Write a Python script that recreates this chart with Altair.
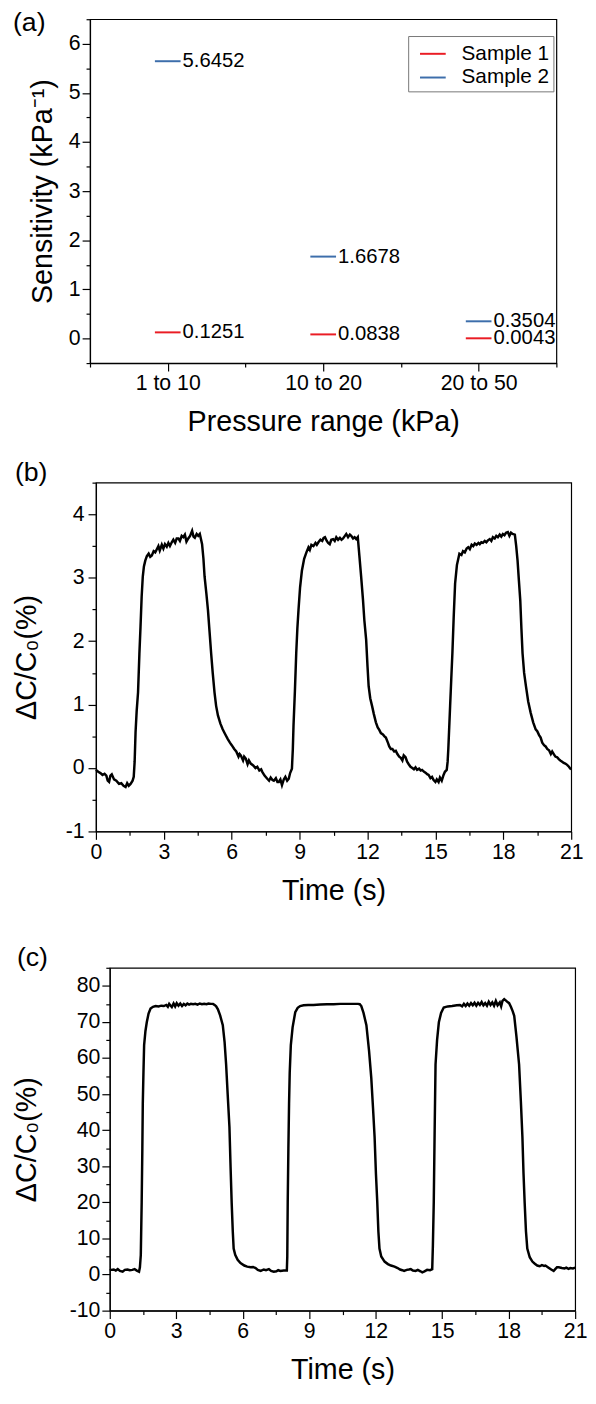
import json
import altair as alt
import pandas as pd

FONT = "Liberation Sans"

# ---------------- Panel (a) data ----------------
ranges = ["1 to 10", "10 to 20", "20 to 50"]
range_pos = [1, 2, 3]
sample1 = [0.1251, 0.0838, 0.0043]
sample2 = [5.6452, 1.6678, 0.3504]
series_names = ["Sample 1", "Sample 2"]
series_colors = ["#ea1c24", "#3d6eab"]

# ---------------- Panel (b) data ----------------
b_time = [0.00, 0.10, 0.20, 0.29, 0.38, 0.46, 0.52, 0.58, 0.64, 0.70, 0.80, 0.90, 1.02, 1.12, 1.22, 1.31,
          1.38, 1.45, 1.53, 1.62, 1.67, 1.71, 1.75, 1.80, 1.86, 1.92, 1.97, 2.02, 2.07, 2.12, 2.18, 2.25,
          2.33, 2.40, 2.47, 2.55, 2.62, 2.69, 2.76, 2.82, 2.91, 2.98, 3.05, 3.13, 3.20, 3.27, 3.35, 3.42,
          3.50, 3.57, 3.64, 3.71, 3.79, 3.86, 3.93, 4.00, 4.08, 4.16, 4.25, 4.31, 4.37, 4.45, 4.52, 4.59,
          4.69, 4.75, 4.80, 4.88, 4.95, 5.02, 5.09, 5.16, 5.24, 5.31, 5.39, 5.50, 5.60, 5.70, 5.82, 5.92,
          6.00, 6.11, 6.20, 6.30, 6.35, 6.40, 6.50, 6.55, 6.62, 6.70, 6.76, 6.84, 6.95, 7.05, 7.13, 7.22,
          7.30, 7.35, 7.45, 7.57, 7.65, 7.72, 7.80, 7.86, 7.95, 8.02, 8.08, 8.15, 8.22, 8.30, 8.37, 8.45,
          8.52, 8.58, 8.66, 8.70, 8.73, 8.79, 8.85, 8.90, 8.95, 9.02, 9.10, 9.20, 9.30, 9.39, 9.45, 9.52,
          9.61, 9.70, 9.76, 9.83, 9.92, 10.00, 10.06, 10.12, 10.20, 10.26, 10.33, 10.40, 10.48, 10.55,
          10.62, 10.70, 10.78, 10.85, 10.92, 11.00, 11.06, 11.14, 11.22, 11.28, 11.36, 11.43, 11.50,
          11.57, 11.64, 11.72, 11.80, 11.86, 11.94, 12.00, 12.05, 12.12, 12.20, 12.28, 12.37, 12.45,
          12.52, 12.59, 12.68, 12.75, 12.81, 12.90, 12.96, 13.03, 13.10, 13.18, 13.25, 13.32, 13.40,
          13.47, 13.54, 13.60, 13.68, 13.75, 13.82, 13.90, 13.98, 14.05, 14.12, 14.19, 14.28, 14.35,
          14.41, 14.50, 14.58, 14.65, 14.70, 14.78, 14.85, 14.92, 15.00, 15.06, 15.14, 15.20, 15.28,
          15.36, 15.42, 15.50, 15.54, 15.57, 15.65, 15.70, 15.75, 15.81, 15.87, 15.95, 16.06, 16.15,
          16.22, 16.30, 16.38, 16.45, 16.52, 16.60, 16.67, 16.74, 16.82, 16.90, 16.96, 17.03, 17.10,
          17.18, 17.25, 17.32, 17.40, 17.47, 17.54, 17.62, 17.69, 17.76, 17.84, 17.91, 17.98, 18.05,
          18.12, 18.20, 18.27, 18.34, 18.41, 18.51, 18.57, 18.63, 18.69, 18.75, 18.80, 18.85, 18.92,
          19.00, 19.10, 19.21, 19.32, 19.43, 19.50, 19.58, 19.65, 19.72, 19.80, 19.87, 19.94, 20.02,
          20.10, 20.16, 20.23, 20.30, 20.38, 20.45, 20.52, 20.60, 20.67, 20.74, 20.82, 20.90, 20.96, 21.00]
b_val = [-0.03, -0.06, -0.08, -0.11, -0.09, -0.12, -0.20, -0.22, -0.12, -0.10, -0.18, -0.20, -0.25, -0.24, -0.28, -0.30,
         -0.24, -0.28, -0.25, -0.20, -0.14, 0.10, 0.56, 0.90, 1.19, 1.80, 2.23, 2.70, 3.02, 3.18, 3.27, 3.34,
         3.38, 3.33, 3.35, 3.42, 3.40, 3.45, 3.50, 3.43, 3.52, 3.46, 3.53, 3.49, 3.55, 3.50, 3.56, 3.60,
         3.55, 3.62, 3.62, 3.58, 3.66, 3.64, 3.68, 3.57, 3.62, 3.66, 3.74, 3.65, 3.63, 3.69, 3.66, 3.69,
         3.53, 3.30, 3.02, 2.75, 2.49, 2.15, 1.81, 1.50, 1.19, 0.98, 0.83, 0.70, 0.61, 0.54, 0.46, 0.40,
         0.36, 0.30, 0.26, 0.18, 0.22, 0.20, 0.12, 0.18, 0.15, 0.06, 0.12, 0.07, 0.04, 0.00, 0.02, -0.04,
         -0.02, -0.06, -0.12, -0.17, -0.20, -0.15, -0.19, -0.20, -0.16, -0.22, -0.22, -0.18, -0.27, -0.18, -0.14, -0.20,
         -0.17, -0.08, -0.01, 0.30, 0.67, 1.20, 1.81, 2.20, 2.49, 2.85, 3.11, 3.30, 3.40, 3.48, 3.44, 3.52,
         3.50, 3.55, 3.52, 3.56, 3.60, 3.58, 3.63, 3.64, 3.58, 3.55, 3.53, 3.60, 3.61, 3.58,
         3.64, 3.60, 3.63, 3.60, 3.62, 3.66, 3.69, 3.64, 3.68, 3.66, 3.62, 3.64, 3.61,
         3.64, 3.35, 3.01, 2.65, 2.33, 2.02, 1.60, 1.29, 1.10, 0.98, 0.85, 0.72, 0.64,
         0.60, 0.55, 0.53, 0.50, 0.48, 0.40, 0.34, 0.30, 0.30, 0.26, 0.27, 0.22, 0.18,
         0.16, 0.12, 0.20, 0.17, 0.10, 0.06, 0.02, 0.00, -0.02, 0.01, -0.03, -0.01, -0.04,
         -0.03, -0.06, -0.08, -0.10, -0.11, -0.16, -0.14, -0.19, -0.22, -0.18, -0.22, -0.15, -0.20,
         -0.11, -0.06, -0.03, 0.10, 0.30, 0.98, 1.40, 1.81, 2.40, 2.91, 3.20, 3.38, 3.36,
         3.42, 3.40, 3.46, 3.48, 3.45, 3.52, 3.50, 3.54, 3.52, 3.55, 3.53, 3.56, 3.55,
         3.58, 3.56, 3.59, 3.61, 3.58, 3.64, 3.62, 3.66, 3.64, 3.68, 3.65, 3.69, 3.67,
         3.71, 3.72, 3.66, 3.71, 3.69, 3.68, 3.50, 3.27, 2.95, 2.64, 2.20, 1.81, 1.50,
         1.29, 1.05, 0.87, 0.72, 0.61, 0.58, 0.52, 0.48, 0.40, 0.36, 0.34, 0.30, 0.28,
         0.22, 0.26, 0.22, 0.18, 0.17, 0.14, 0.12, 0.10, 0.08, 0.07, 0.05, 0.02, -0.01, -0.02]

# ---------------- Panel (c) data ----------------
c_time = [0.00, 0.06, 0.18, 0.27, 0.36, 0.46, 0.58, 0.68, 0.80, 0.90, 1.02, 1.12, 1.22, 1.32, 1.36, 1.40,
          1.44, 1.47, 1.49, 1.52, 1.55, 1.61, 1.67, 1.75, 1.84, 1.95, 2.07, 2.20, 2.32, 2.44, 2.55, 2.62,
          2.68, 2.73, 2.80, 2.88, 2.95, 3.02, 3.10, 3.18, 3.26, 3.34, 3.42, 3.50, 3.58, 3.66, 3.76, 3.86,
          3.96, 4.06, 4.16, 4.26, 4.36, 4.46, 4.56, 4.66, 4.73, 4.80, 4.88, 4.98, 5.10, 5.18, 5.25, 5.32,
          5.40, 5.45, 5.50, 5.55, 5.59, 5.66, 5.77, 5.90, 6.07, 6.20, 6.36, 6.47, 6.58, 6.68, 6.81, 6.95,
          7.05, 7.18, 7.28, 7.40, 7.52, 7.60, 7.70, 7.85, 7.99, 8.01, 8.03, 8.06, 8.09, 8.12, 8.17, 8.25,
          8.37, 8.48, 8.59, 8.75, 8.95, 9.19, 9.50, 9.80, 10.10, 10.40, 10.70, 11.00, 11.20, 11.28, 11.35,
          11.45, 11.58, 11.70, 11.80, 11.88, 11.95, 12.01, 12.07, 12.12, 12.17, 12.25, 12.40, 12.55,
          12.69, 12.85, 12.99, 13.10, 13.20, 13.28, 13.40, 13.50, 13.58, 13.68, 13.80, 13.90, 14.02,
          14.10, 14.20, 14.32, 14.45, 14.55, 14.58, 14.62, 14.66, 14.70, 14.77, 14.85, 14.95, 15.07,
          15.25, 15.45, 15.66, 15.80, 15.90, 15.98, 16.06, 16.14, 16.22, 16.30, 16.38, 16.46, 16.54,
          16.62, 16.70, 16.78, 16.86, 16.94, 17.02, 17.10, 17.18, 17.26, 17.34, 17.42, 17.50, 17.60,
          17.66, 17.72, 17.80, 17.88, 17.95, 18.02, 18.10, 18.18, 18.25, 18.35, 18.47, 18.55, 18.62,
          18.67, 18.72, 18.78, 18.84, 18.95, 19.07, 19.18, 19.29, 19.40, 19.50, 19.60, 19.66, 19.80,
          19.92, 20.03, 20.10, 20.18, 20.26, 20.40, 20.52, 20.60, 20.70, 20.78, 20.90, 21.00]
c_val = [1.2, 1.3, 1.4, 1.1, 1.5, 1.0, 0.8, 1.3, 1.4, 1.2, 1.3, 1.5, 1.1, 0.8, 2.0, 5.4,
         20.1, 35.0, 47.3, 56.0, 63.6, 67.5, 69.9, 72.3, 73.7, 74.2, 74.4, 74.3, 74.5, 74.4, 74.7, 74.2,
         75.0, 74.6, 74.1, 75.1, 74.3, 75.2, 74.5, 75.1, 74.4, 75.0, 74.6, 75.1, 74.8, 75.0, 74.9, 75.0,
         74.8, 75.1, 74.9, 75.0, 74.9, 75.1, 75.0, 75.0, 74.7, 74.3, 73.5, 71.8, 69.1, 64.5, 58.2, 50.0,
         40.9, 30.0, 20.0, 12.0, 7.2, 5.5, 4.1, 3.2, 2.5, 2.2, 2.0, 2.1, 1.8, 1.3, 1.0, 1.4,
         1.2, 1.5, 1.0, 0.8, 0.9, 1.2, 1.0, 1.1, 1.1, 5.0, 20.1, 35.0, 47.3, 56.0, 63.6, 68.5,
         72.7, 73.9, 74.4, 74.6, 74.7, 74.7, 74.8, 74.9, 74.9, 75.0, 75.0, 75.0, 75.0, 74.9, 74.4,
         72.5, 69.1, 62.0, 54.5, 46.0, 38.1, 28.0, 20.1, 12.0, 7.2, 5.0, 3.6, 2.9,
         2.5, 2.2, 1.8, 1.4, 1.2, 1.0, 1.3, 1.4, 1.5, 1.1, 1.0, 1.3, 0.9,
         0.6, 0.9, 1.3, 1.2, 1.5, 8.0, 20.1, 40.0, 58.2, 65.0, 69.9, 72.5, 74.0,
         74.3, 74.4, 74.6, 74.7, 74.3, 75.0, 74.4, 75.1, 74.5, 75.2, 74.6, 75.3, 74.5,
         75.3, 74.7, 75.5, 74.6, 75.2, 74.5, 75.6, 74.7, 75.4, 74.5, 75.8, 74.6, 75.4,
         74.3, 75.8, 76.3, 75.9, 75.5, 75.2, 74.2, 73.0, 71.7, 66.0, 58.2, 48.0, 38.1,
         28.0, 20.1, 12.0, 7.2, 4.8, 3.6, 3.0, 2.5, 2.3, 2.6, 2.4, 2.5, 1.9,
         1.4, 1.0, 1.5, 2.0, 2.0, 1.8, 1.7, 1.9, 1.6, 1.8, 1.7, 1.9]

panel_labels = ["(a)", "(b)", "(c)"]

time_ticks = [0, 3, 6, 9, 12, 15, 18, 21]
time_minor = [1.5, 4.5, 7.5, 10.5, 13.5, 16.5, 19.5]

TICK = 8
MINOR = 4
LBL = 21.5
TTL = 29
HYPHEN = "datum.value < 0 ? '-' + format(-datum.value, 'd') : format(datum.value, 'd')"


def minor_axis(values, orient):
    return alt.Axis(values=values, labels=False, title=None, tickSize=MINOR, orient=orient,
                    domain=False, grid=False, ticks=True)


def panel_label(text, dx, dy):
    return alt.Chart(pd.DataFrame({"t": [text]})).mark_text(
        align="left", baseline="middle", fontSize=27, font=FONT, color="black"
    ).encode(x=alt.value(dx), y=alt.value(dy), text="t:N")


def anchor(dx):
    # invisible element fixing the panel's left extent
    return alt.Chart(pd.DataFrame({"k": [0]})).mark_rule(strokeOpacity=0).encode(
        x=alt.value(dx), y=alt.value(0), y2=alt.value(1))


def spacer():
    return alt.Chart(pd.DataFrame({"s": [0]})).mark_point(opacity=0, size=1).encode(
        x=alt.value(0), y=alt.value(0)
    ).properties(width=1, height=1, view=alt.ViewBackground(stroke="transparent"))


# ---------------- Panel (a) ----------------
rows = []
for name, vals in zip(series_names, [sample1, sample2]):
    for p, v in zip(range_pos, vals):
        rows.append({"pos": p, "value": v, "series": name})
df_a = pd.DataFrame(rows)

xs_a = alt.Scale(domain=[0.5, 3.5], nice=False, zero=False)
ys_a = alt.Scale(domain=[-0.5, 6.5], nice=False, zero=False)
label_expr = json.dumps(ranges) + "[datum.value - 1]"

seg_a = alt.Chart(df_a).mark_rule(strokeWidth=2, xOffset=-13, x2Offset=13).encode(
    x=alt.X("pos:Q", scale=xs_a, axis=alt.Axis(values=range_pos, labelExpr=label_expr, orient="bottom",
                                                title="Pressure range (kPa)", titlePadding=14)),
    x2="pos:Q",
    y=alt.Y("value:Q", scale=ys_a, axis=alt.Axis(values=[0, 1, 2, 3, 4, 5, 6], orient="left",
                                                  labelPadding=2, labelExpr=HYPHEN,
                                                  title="Sensitivity (kPa\u207b\u00b9)", titlePadding=11)),
    color=alt.Color("series:N", scale=alt.Scale(domain=series_names, range=series_colors),
                    legend=alt.Legend(title=None, orient="none", legendX=403, legendY=17,
                                      symbolType="stroke", symbolSize=676, symbolStrokeWidth=2,
                                      symbolOffset=7,
                                      labelFontSize=21, labelFont=FONT, labelColor="black",
                                      labelOffset=15, strokeColor="#777777", padding=4,
                                      rowPadding=0, fillColor="white")),
)
txt_a = alt.Chart(df_a).mark_text(align="left", baseline="middle", dx=15, fontSize=20.5,
                                  font=FONT, color="black").encode(
    x=alt.X("pos:Q", scale=xs_a, axis=None),
    y=alt.Y("value:Q", scale=ys_a, axis=None),
    text=alt.Text("value:Q", format=".4f"),
)
min_a = alt.Chart(df_a).mark_point(opacity=0).encode(
    x=alt.X("pos:Q", scale=xs_a, axis=minor_axis([0.5, 1.5, 2.5, 3.5], "bottom")),
    y=alt.Y("value:Q", scale=ys_a, axis=minor_axis([-0.5, 0.5, 1.5, 2.5, 3.5, 4.5, 5.5, 6.5], "left")),
)
panel_a = alt.layer(seg_a, txt_a, min_a, panel_label(panel_labels[0], -78, 4), anchor(-78)).resolve_axis(
    x="independent", y="independent").properties(width=472, height=348)

# ---------------- Panel (b) ----------------
df_b = pd.DataFrame({"t": b_time, "v": b_val})
xs_b = alt.Scale(domain=[0, 21], nice=False, zero=False)
ys_b = alt.Scale(domain=[-1, 4.5], nice=False, zero=False)
line_b = alt.Chart(df_b).mark_line(color="black", strokeWidth=2.5).encode(
    x=alt.X("t:Q", scale=xs_b, axis=alt.Axis(values=time_ticks, title="Time (s)", orient="bottom",
                                              titlePadding=14)),
    y=alt.Y("v:Q", scale=ys_b, axis=alt.Axis(values=[-1, 0, 1, 2, 3, 4], orient="left",
                                              labelPadding=4, labelExpr=HYPHEN,
                                              title="\u0394C/C\u2080(%)", titlePadding=24)),
)
min_b = alt.Chart(df_b).mark_line(opacity=0).encode(
    x=alt.X("t:Q", scale=xs_b, axis=minor_axis(time_minor, "bottom")),
    y=alt.Y("v:Q", scale=ys_b, axis=minor_axis([-0.5, 0.5, 1.5, 2.5, 3.5, 4.5], "left")),
)
panel_b = alt.layer(line_b, min_b, panel_label(panel_labels[1], -82, -10), anchor(-83)).resolve_axis(
    x="independent", y="independent").properties(width=481, height=353)

# ---------------- Panel (c) ----------------
df_c = pd.DataFrame({"t": c_time, "v": c_val})
xs_c = alt.Scale(domain=[0, 21], nice=False, zero=False)
ys_c = alt.Scale(domain=[-10, 85], nice=False, zero=False)
line_c = alt.Chart(df_c).mark_line(color="black", strokeWidth=2.5).encode(
    x=alt.X("t:Q", scale=xs_c, axis=alt.Axis(values=time_ticks, title="Time (s)", orient="bottom",
                                              titlePadding=14)),
    y=alt.Y("v:Q", scale=ys_c, axis=alt.Axis(values=[-10, 0, 10, 20, 30, 40, 50, 60, 70, 80],
                                              orient="left", labelPadding=2, labelExpr=HYPHEN,
                                              title="\u0394C/C\u2080(%)", titlePadding=28)),
)
min_c = alt.Chart(df_c).mark_line(opacity=0).encode(
    x=alt.X("t:Q", scale=xs_c, axis=minor_axis(time_minor, "bottom")),
    y=alt.Y("v:Q", scale=ys_c, axis=minor_axis([-5, 5, 15, 25, 35, 45, 55, 65, 75, 85], "left")),
)
panel_c = alt.layer(line_c, min_c, panel_label(panel_labels[2], -94, -10), anchor(-95)).resolve_axis(
    x="independent", y="independent").properties(width=471, height=347)

row_a = alt.hconcat(spacer(), panel_a, spacing=0)
row_b = alt.hconcat(spacer(), panel_b, spacing=0)
row_c = alt.hconcat(spacer(), panel_c, spacing=0)

chart = alt.vconcat(
    row_a,
    alt.vconcat(row_b, row_c, spacing=37),
    spacing=20,
).configure(
    font=FONT,
    padding={"left": 0, "top": -8, "right": 0, "bottom": 0},
).configure_view(
    stroke="black", strokeWidth=1.2,
).configure_axis(
    grid=False, domainColor="black", domainWidth=1.2, tickColor="black", tickWidth=1.2,
    tickSize=TICK, labelFont=FONT, labelFontSize=LBL, labelColor="black", labelPadding=2,
    titleFont=FONT, titleFontSize=TTL, titleFontWeight="normal", titleColor="black",
    labelFlush=False, labelOverlap=False,
)

chart.save("out.html", embed_options={"renderer": "svg", "actions": False})
